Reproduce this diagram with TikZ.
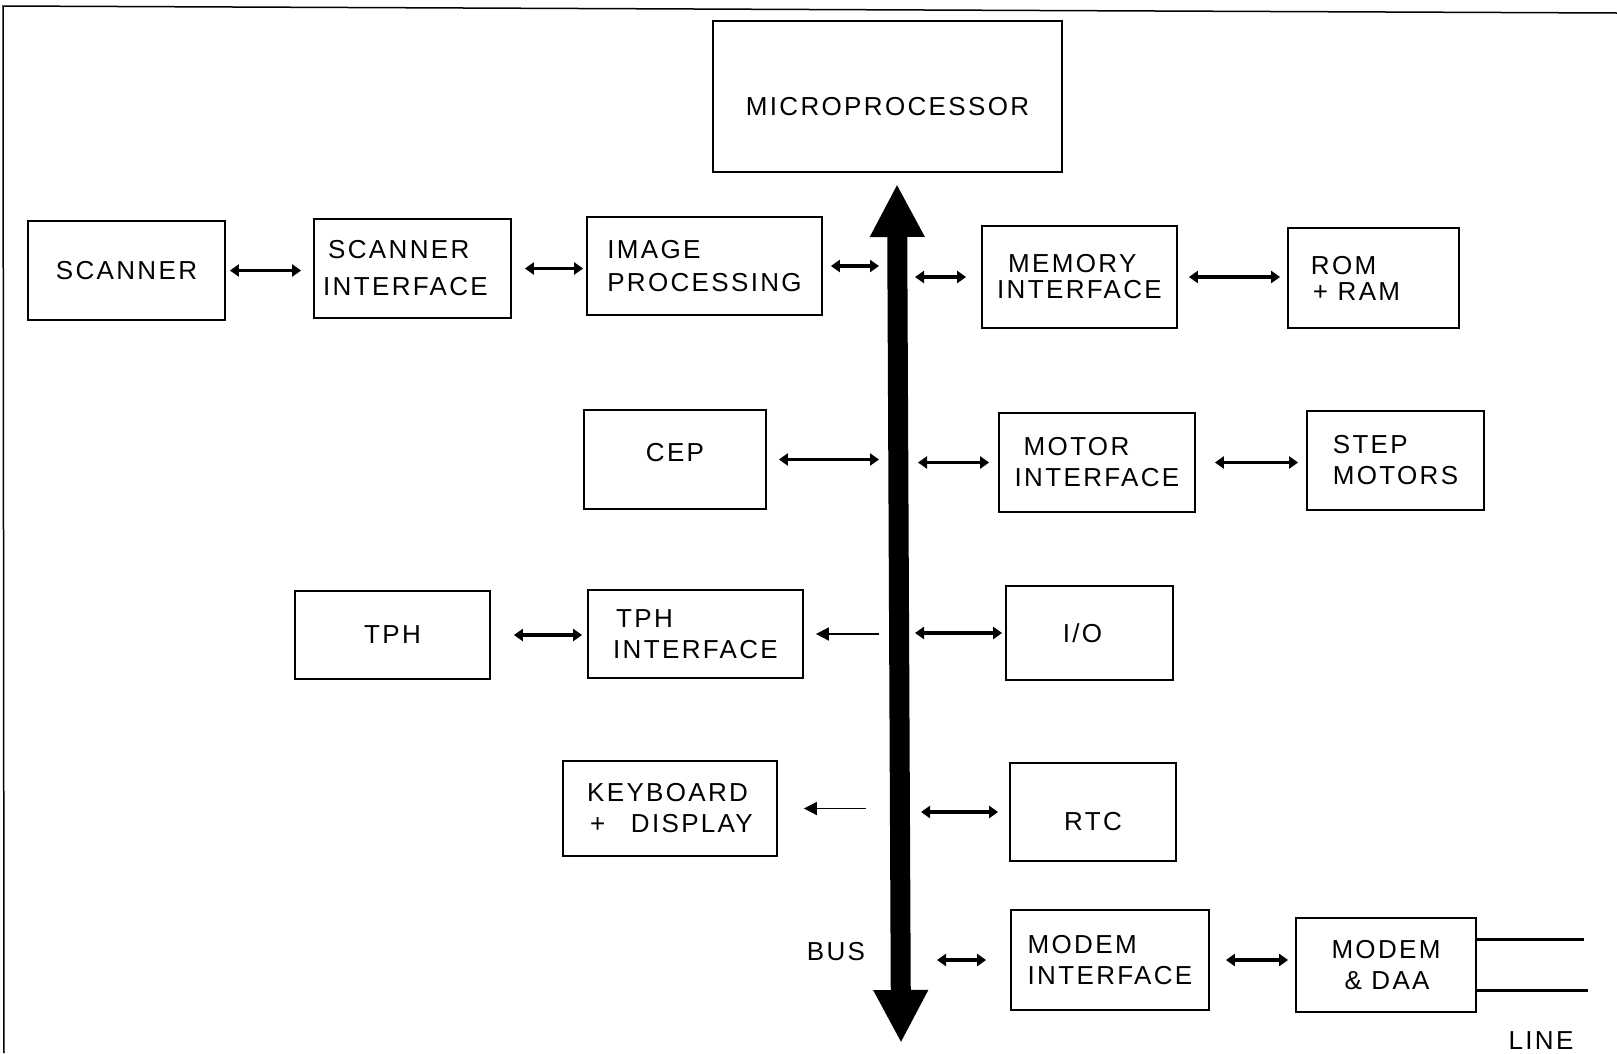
\documentclass[tikz,border=0pt]{standalone}
\usepackage{fontspec}
\setmainfont{Liberation Sans}[LetterSpace=9]
\usetikzlibrary{arrows.meta}

\begin{document}
\begin{tikzpicture}[x=1pt,y=-1pt,
  blk/.style={draw,line width=1.8pt,align=left,inner sep=0pt,font=\fontsize{26}{31}\selectfont},
  txt/.style={inner sep=0pt,font=\fontsize{26}{31}\selectfont},
  link/.style={line width=3.5pt,{Triangle[length=9pt,width=12pt]}-{Triangle[length=9pt,width=12pt]}},
  feed/.style={line width=1.8pt,-{Triangle[length=13pt,width=13pt]}},
  bus/.style={line width=20pt,{Triangle[length=53pt,width=51pt]}-{Triangle[length=53pt,width=51pt]}},
  wire/.style={line width=3pt}]
\useasboundingbox (0,0) rectangle (1617,1053);
\draw[line width=1.5pt] (4,1053)--(3,6)--(1617,13);

\node[blk,minimum width=349pt,minimum height=151pt,text height=38pt,text depth=0pt] (micro) at (887.5,96.5) {MICROPROCESSOR};
\node[blk,minimum width=197pt,minimum height=99pt] (scan) at (126.5,270.5) {SCANNER};
\node[blk,minimum width=197pt,minimum height=99pt] (scanif) at (412.5,268.5) {\hspace*{5pt}SCANNER\\[6pt]INTERFACE\hspace*{14pt}};
\node[blk,minimum width=235pt,minimum height=98pt] (imgp) at (704.5,266) {IMAGE\\[2pt]PROCESSING};
\node[blk,minimum width=195pt,minimum height=102pt] (memif) at (1079.5,277) {\hspace*{11pt}MEMORY\\[-5pt]INTERFACE};
\node[blk,minimum width=171pt,minimum height=100pt] (rom) at (1373.5,278) {ROM\\[-5pt]\hspace*{2pt}+ RAM\hspace*{36pt}};
\node[blk,minimum width=182pt,minimum height=99pt,text height=18.6pt,text depth=14pt] (cep) at (675,459.5) {CEP};
\node[blk,minimum width=196pt,minimum height=99pt] (motorif) at (1097,462.5) {\hspace*{9pt}MOTOR\\INTERFACE};
\node[blk,minimum width=177pt,minimum height=99pt] (step) at (1395.5,460.5) {STEP\\MOTORS};
\node[blk,minimum width=195pt,minimum height=88pt] (tph) at (392.5,635) {TPH};
\node[blk,minimum width=215pt,minimum height=88pt] (tphif) at (695.5,634) {\hspace*{3pt}TPH\\INTERFACE};
\node[blk,minimum width=167pt,minimum height=94pt] (io) at (1089.5,633) {I/O\hspace*{14pt}};
\node[blk,minimum width=214pt,minimum height=95pt] (kbd) at (670,808.5) {KEYBOARD\\\hspace*{3pt}+\hspace*{16pt} DISPLAY};
\node[blk,minimum width=166pt,minimum height=98pt,text height=36.6pt,text depth=0pt] (rtc) at (1093,812) {RTC};
\node[blk,minimum width=198pt,minimum height=100pt] (modemif) at (1110,960) {MODEM\\INTERFACE};
\node[blk,minimum width=180pt,minimum height=94pt] (modem) at (1386,965) {MODEM\\\hspace*{13pt}\& DAA};
\node[txt] (buslbl) at (836,952) {BUS};
\node[txt] (linelbl) at (1541,1041) {LINE};

% bus
\coordinate (busT) at (897,184);
\coordinate (busB) at (901,1043);
\coordinate (busL) at (879,0);
\coordinate (busR) at (915,0);
\draw[bus] (busB)--(busT);

\draw[link,shorten <=4pt,shorten >=12pt] (scan.east)--(scan.east -| scanif.west);
\draw[link,shorten <=13pt,shorten >=3pt] (scanif.east)--(scanif.east -| imgp.west);
\draw[link,shorten <=8pt] (imgp.east)--(imgp.east -| busL);
\draw[link,shorten >=15pt] (memif.west -| busR)--(memif.west);
\draw[link,shorten <=11pt,shorten >=7pt] (memif.east)--(memif.east -| rom.west);
\draw[link,shorten <=12pt] (cep.east)--(cep.east -| busL);
\draw[link,shorten <=3pt,shorten >=9pt] (motorif.west -| busR)--(motorif.west);
\draw[link,shorten <=19pt,shorten >=8pt] (motorif.east)--(motorif.east -| step.west);
\draw[link,shorten <=23pt,shorten >=5pt] (tph.east)--(tph.east -| tphif.west);
\draw[feed,shorten >=12pt] (tphif.east -| busL)--(tphif.east);
\draw[link,shorten >=3pt] (io.west -| busR)--(io.west);
\draw[feed,shorten <=13pt,shorten >=26pt] (kbd.east -| busL)--(kbd.east);
\draw[link,shorten <=6pt,shorten >=11pt] (rtc.west -| busR)--(rtc.west);
\draw[link,shorten <=22pt,shorten >=24pt] (modemif.west -| busR)--(modemif.west);
\draw[link,shorten <=16pt,shorten >=7pt] (modemif.east)--(modemif.east -| modem.west);

% line
\coordinate (lineA) at (1584,939);
\coordinate (lineB) at (1588,990);
\draw[wire] (modem.east |- lineA)--(lineA);
\draw[wire] (modem.east |- lineB)--(lineB);
\end{tikzpicture}
\end{document}
